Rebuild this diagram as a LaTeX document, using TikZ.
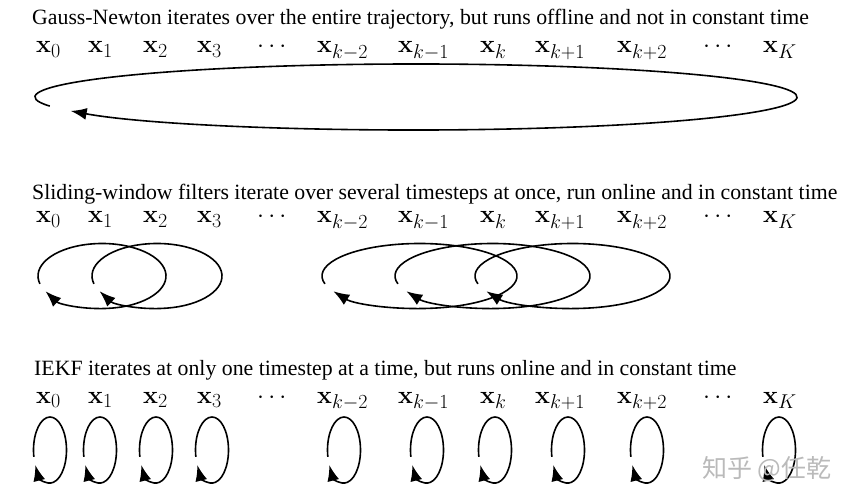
\RequirePackage{fix-cm}
\documentclass[tikz,border=0pt]{standalone}
\usepackage[no-math]{fontspec}
\setmainfont{Liberation Serif}
\newfontfamily\cjk{Noto Sans CJK SC}
\usetikzlibrary{arrows.meta}
\DeclareMathSizes{25}{25}{20}{15}
\begin{document}
\begin{tikzpicture}[x=1pt,y=1pt,
  title/.style={anchor=base west,inner sep=0pt,text depth=0pt,font=\fontsize{21.8}{25}\selectfont},
  lab/.style={anchor=base west,inner sep=0pt,text height=19pt,font=\fontsize{25}{30}\selectfont},
  loop/.style={line width=1.6pt,-{Latex[length=16pt,width=12pt]}},
  wm/.style={text=black!27,font=\cjk\fontsize{25}{28}\selectfont,inner sep=0pt}]
\useasboundingbox (0,0) rectangle (856,-502);
% titles
\node[title] (t1) at (32,-25) {Gauss-Newton iterates over the entire trajectory, but runs offline and not in constant time};
\node[title] (t2) at (32,-200) {Sliding-window filters iterate over several timesteps at once, run online and in constant time};
\node[title] (t3) at (34,-375) {IEKF iterates at only one timestep at a time, but runs online and in constant time};
% labels
\foreach \r/\yb in {a/53,b/223,c/403}{
  \node[lab] (\r0) at (36,-\yb) {$\mathbf{x}_0$};
  \node[lab] (\r1) at (88,-\yb) {$\mathbf{x}_1$};
  \node[lab] (\r2) at (143,-\yb) {$\mathbf{x}_2$};
  \node[lab] (\r3) at (197,-\yb) {$\mathbf{x}_3$};
  \node[lab] (\r d1) at (257,-\yb) {$\cdots$};
  \node[lab] (\r km2) at (317,-\yb) {$\mathbf{x}_{k-2}$};
  \node[lab] (\r km1) at (398,-\yb) {$\mathbf{x}_{k-1}$};
  \node[lab] (\r k) at (480,-\yb) {$\mathbf{x}_{k}$};
  \node[lab] (\r kp1) at (535,-\yb) {$\mathbf{x}_{k+1}$};
  \node[lab] (\r kp2) at (617,-\yb) {$\mathbf{x}_{k+2}$};
  \node[lab] (\r d2) at (703,-\yb) {$\cdots$};
  \node[lab] (\r K) at (763,-\yb) {$\mathbf{x}_{K}$};
}
% Gauss-Newton loop
\coordinate (g) at (416,-97);
\draw[loop] ([shift={(196:381 and 33)}]g) arc[start angle=196,end angle=-155,x radius=381,y radius=33];
% sliding window loops
\foreach \cx/\rx in {102/64,157/65,419.5/97.5,492.5/97.5,572.5/97.5}{
  \coordinate (s) at (\cx,-276);
  \draw[loop] ([shift={(194:\rx pt and 32.5pt)}]s) arc[start angle=194,end angle=-152,x radius=\rx,y radius=32.5];
}
% IEKF loops
\foreach \cx in {50,100,156,212,344,427,495,568,647,779}{
  \coordinate (e) at (\cx,-450);
  \draw[loop] ([shift={(192:16.5 and 33)}]e) arc[start angle=192,end angle=-153,x radius=16.5,y radius=33];
}
% watermark
\node[wm] (wm) at (767,-469) {知乎 @任乾};
\end{tikzpicture}
\end{document}
